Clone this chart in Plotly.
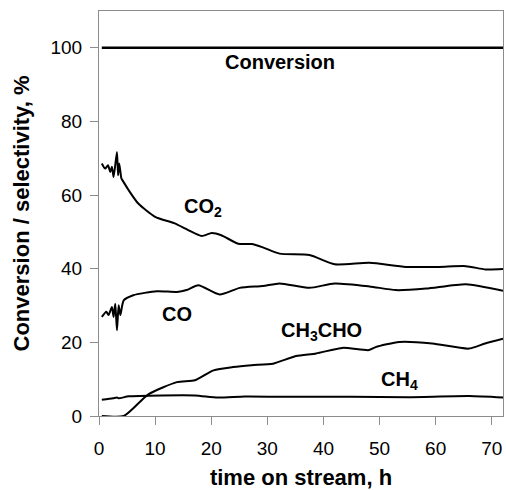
import plotly.graph_objects as go

# ---- data ----
conv_t = [0.5, 72]
conv_v = [100, 100]

co2_t = [0.5, 1.1, 1.6, 2.0, 2.3, 2.6, 3.2, 3.4, 3.6, 4.0, 4.2, 5.3, 7.0, 10.0, 13.5, 15.9,
         18.3, 20.1, 21.8, 24.8, 27.2, 29.2, 32.2, 37.5, 42.0, 48.2, 54.7, 60.6, 65.4, 68.9, 72.0]
co2_v = [68.6, 67.2, 68.1, 66.3, 67.7, 64.9, 71.7, 65.4, 68.6, 64.5, 64.0, 61.3, 57.7, 54.1, 52.3, 50.5,
         48.9, 49.7, 49.1, 46.8, 46.7, 45.8, 44.1, 43.7, 41.2, 41.6, 40.5, 40.5, 40.7, 39.8, 39.9]

co_t = [0.5, 1.3, 1.7, 2.3, 2.6, 2.9, 3.2, 3.5, 3.8, 4.4, 6.1, 10.3, 13.9, 15.6, 17.7, 21.5, 25.1,
        29.2, 32.2, 37.5, 42.0, 48.2, 52.9, 58.3, 65.4, 72.0]
co_v = [26.9, 28.3, 27.4, 29.6, 26.9, 30.5, 23.3, 30.1, 27.4, 31.4, 32.8, 33.9, 33.7, 34.2, 35.5, 33.0, 34.8,
        35.3, 36.0, 34.8, 36.0, 35.2, 34.2, 34.6, 35.8, 34.0]

ch3cho_t = [0.5, 4.4, 8.8, 13.9, 17.1, 20.4, 23.9, 27.2, 31.0, 35.1, 38.7, 43.4, 48.1, 49.3, 53.5,
            59.4, 65.9, 68.8, 72.0]
ch3cho_v = [0.0, 0.0, 5.9, 9.2, 9.7, 12.4, 13.3, 13.8, 14.2, 16.3, 17.0, 18.5, 17.9, 18.7, 20.1,
            19.7, 18.3, 19.7, 21.0]

ch4_t = [0.5, 2.5, 3.2, 3.5, 5.3, 11.2, 17.1, 21.2, 26.0, 35.0, 45.0, 55.0, 66.0, 72.0]
ch4_v = [4.4, 4.8, 5.0, 4.8, 5.35, 5.6, 5.6, 5.0, 5.3, 5.2, 5.2, 5.1, 5.4, 5.0]

labels = ["Conversion", "CO<sub>2</sub>", "CO", "CH<sub>3</sub>CHO", "CH<sub>4</sub>"]
label_t = [32.2, 18.6, 13.9, 39.6, 53.6]
label_v = [96.1, 56.6, 27.8, 22.9, 9.6]

x_ticks = [0, 10, 20, 30, 40, 50, 60, 70]
y_ticks = [0, 20, 40, 60, 80, 100]

FONT = "Liberation Sans, Arial, sans-serif"

fig = go.Figure()
fig.add_trace(go.Scatter(x=conv_t, y=conv_v, mode="lines",
                         line=dict(color="black", width=2.6), showlegend=False))
for t, v in [(co2_t, co2_v), (co_t, co_v), (ch3cho_t, ch3cho_v), (ch4_t, ch4_v)]:
    fig.add_trace(go.Scatter(x=t, y=v, mode="lines",
                             line=dict(color="black", width=2, shape="spline", smoothing=0.6),
                             showlegend=False))

for txt, tx, ty in zip(labels, label_t, label_v):
    fig.add_annotation(x=tx, y=ty, text="<b>" + txt + "</b>", showarrow=False,
                       font=dict(family=FONT, size=20, color="black"))

axis_common = dict(showgrid=False, zeroline=False, showline=True, linecolor="#8c8c8c",
                   linewidth=1, mirror=True, ticks="outside", ticklen=8, tickcolor="#8c8c8c",
                   automargin=False,
                   tickfont=dict(family=FONT, size=19, color="black"))

fig.update_xaxes(range=[0, 72], tickvals=x_ticks, ticklabelstandoff=7,
                 title=dict(text="<b>time on stream, h</b>",
                            font=dict(family=FONT, size=22, color="black"), standoff=13),
                 **axis_common)
fig.update_yaxes(range=[0, 110], tickvals=y_ticks, ticklabelstandoff=4,
                 title=dict(text="<b>Conversion / selectivity, %</b>",
                            font=dict(family=FONT, size=22, color="black"), standoff=14),
                 **axis_common)

fig.update_layout(width=506, height=490, margin=dict(l=99, r=3, t=11, b=74),
                  plot_bgcolor="white", paper_bgcolor="white")

# remove the default 8px page margin so the figure fills the window
fig.write_html("out.html", config={"displayModeBar": False},
               post_script="document.body.style.margin='0';document.body.style.overflow='hidden';")
